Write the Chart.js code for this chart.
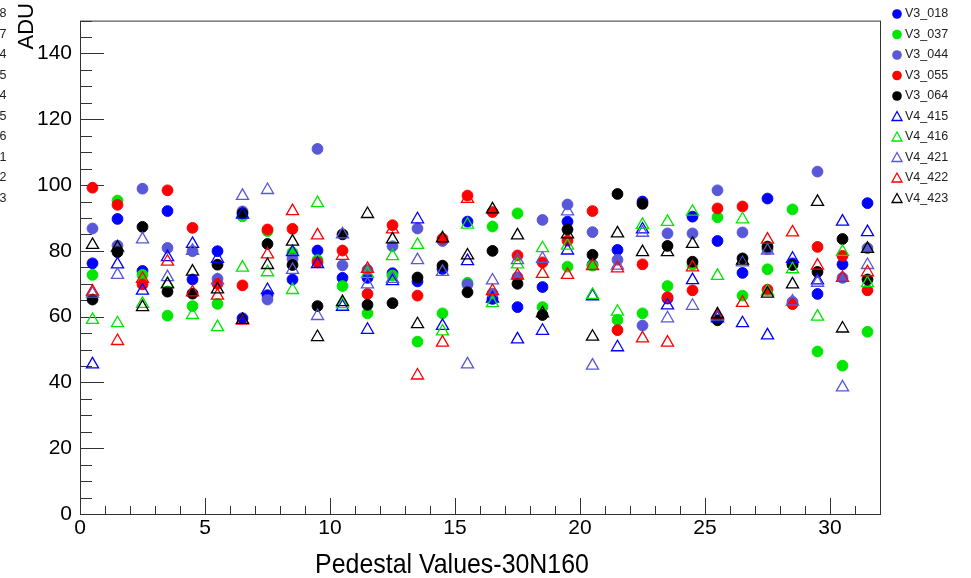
<!DOCTYPE html>
<html lang="en">
<head>
<meta charset="UTF-8">
<title>Pedestal Values-30N160</title>
<style>
  html, body { margin: 0; padding: 0; background: #fff; }
</style>
</head>
<body>
<canvas id="myCanvas" width="971" height="578"></canvas>

<script src="https://cdn.jsdelivr.net/npm/chart.js@4.4.1/dist/chart.umd.min.js"></script>
<script>
// channel positions on the x axis
var channels = [0.5, 1.5, 2.5, 3.5, 4.5, 5.5, 6.5, 7.5, 8.5, 9.5, 10.5, 11.5, 12.5, 13.5, 14.5, 15.5,
                16.5, 17.5, 18.5, 19.5, 20.5, 21.5, 22.5, 23.5, 24.5, 25.5, 26.5, 27.5, 28.5, 29.5, 30.5, 31.5];

var seriesNames = ['V3_018', 'V3_037', 'V3_044', 'V3_055', 'V3_064', 'V4_415', 'V4_416', 'V4_421', 'V4_422', 'V4_423'];

// pedestal values (ADU) per board
var V3_018 = [76.2, 89.7, 73.9, 92.1, 71.3, 79.9, 59.5, 66.5, 71.3, 80.1, 71.8, 71.8, 73.2, 70.7, 74.5, 88.9,
              65.4, 62.9, 69.0, 88.9, 75.8, 80.3, 95.0, 65.5, 90.4, 83.0, 73.3, 95.9, 76.2, 66.9, 75.9, 94.5];
var V3_037 = [72.7, 95.3, 72.7, 60.3, 63.2, 63.9, 90.5, 86.0, 79.5, 77.2, 69.3, 61.0, 72.5, 52.4, 61.0, 70.3,
              87.4, 91.4, 62.9, 75.2, 75.5, 59.0, 61.0, 69.3, 75.8, 90.2, 66.4, 74.4, 92.6, 49.4, 45.1, 55.4];
var V3_044 = [86.8, 81.6, 98.9, 80.9, 79.9, 71.5, 92.0, 65.2, 77.6, 111.0, 75.6, 74.2, 81.4, 86.8, 83.0, 69.8,
              67.0, 72.0, 89.4, 94.1, 85.7, 77.3, 57.3, 85.3, 85.3, 98.4, 85.6, 80.5, 64.5, 104.1, 71.8, 80.8];
var V3_055 = [99.2, 94.0, 69.8, 98.4, 87.0, 70.0, 69.5, 86.5, 86.7, 76.5, 80.1, 66.9, 87.8, 66.4, 83.7, 96.8,
              91.8, 78.6, 76.5, 83.1, 92.1, 55.9, 75.9, 65.9, 68.0, 92.9, 93.5, 68.2, 63.8, 81.2, 78.5, 68.0];
var V3_064 = [65.2, 79.6, 87.3, 67.6, 67.0, 75.8, 91.4, 82.1, 75.7, 63.2, 85.0, 63.6, 64.1, 71.9, 75.5, 67.4,
              80.0, 70.0, 60.5, 86.5, 78.8, 97.3, 94.3, 81.5, 76.7, 58.9, 77.7, 81.3, 75.7, 73.6, 83.6, 71.3];
var V4_415 = [45.5, 75.9, 67.9, 78.1, 82.1, 77.6, 91.0, 68.1, 79.6, 76.0, 63.0, 56.0, 70.8, 89.6, 57.2, 76.9,
              65.5, 53.1, 55.7, 80.1, 66.2, 50.7, 86.5, 63.4, 71.1, 59.5, 58.0, 54.3, 77.6, 71.0, 88.9, 85.7];
var V4_416 = [59.0, 58.0, 63.9, 70.0, 60.5, 56.8, 74.9, 73.5, 68.1, 94.5, 63.8, 73.0, 78.4, 81.8, 55.5, 88.0,
              64.1, 75.9, 80.8, 81.6, 66.6, 61.5, 87.9, 88.8, 91.9, 72.4, 89.6, 67.6, 74.4, 60.0, 79.7, 70.2];
var V4_421 = [67.0, 72.7, 83.5, 72.0, 80.0, 71.0, 96.7, 98.5, 74.2, 60.2, 85.0, 69.8, 71.5, 77.2, 73.6, 45.5,
              71.0, 77.2, 77.6, 92.0, 45.1, 75.5, 85.5, 59.5, 63.3, 60.0, 76.5, 80.1, 64.6, 70.3, 38.5, 75.7];
var V4_422 = [67.6, 52.6, 71.5, 76.7, 67.4, 66.4, 58.8, 78.9, 92.1, 84.7, 78.5, 74.5, 86.5, 42.1, 52.1, 95.8,
              67.8, 72.5, 73.0, 72.7, 75.4, 74.7, 53.4, 52.1, 75.0, 60.3, 64.2, 83.4, 85.6, 75.5, 71.8, 73.5];
var V4_423 = [81.8, 81.0, 62.9, 69.8, 73.7, 68.3, 59.0, 75.7, 82.8, 53.8, 64.4, 91.2, 83.5, 57.7, 83.8, 78.6,
              92.6, 84.7, 61.0, 85.0, 53.9, 85.3, 79.6, 79.6, 82.1, 60.7, 77.0, 67.0, 69.8, 94.9, 56.4, 80.6];

var xTickLabels = [0, 5, 10, 15, 20, 25, 30];
var yTickLabels = [0, 20, 40, 60, 80, 100, 120, 140];

var seriesValues = [V3_018, V3_037, V3_044, V3_055, V3_064, V4_415, V4_416, V4_421, V4_422, V4_423];
var seriesColors = ['#0000ff', '#00e600', '#5858d8', '#ff0000', '#000000',
                    '#0000ff', '#00e600', '#5858d8', '#ff0000', '#000000'];
var seriesMarkers = ['circle', 'circle', 'circle', 'circle', 'circle',
                     'triangle', 'triangle', 'triangle', 'triangle', 'triangle'];

var FONT = '"Liberation Sans", Arial, Helvetica, sans-serif';

var datasets = seriesNames.map(function(name, i) {
    var tri = seriesMarkers[i] === 'triangle';
    return {
        label: name,
        data: channels.map(function(x, k) { return {x: x, y: seriesValues[i][k]}; }),
        pointStyle: seriesMarkers[i],
        pointRadius: tri ? 7 : 5.4,
        pointHoverRadius: tri ? 7 : 5.4,
        borderWidth: tri ? 1.3 : 1,
        borderColor: seriesColors[i],
        backgroundColor: tri ? 'rgba(0,0,0,0)' : seriesColors[i],
        order: seriesNames.length - 1 - i
    };
});

// frame, ROOT-style inner ticks, titles and legend
var decorations = {
    id: 'decorations',
    beforeDatasetsDraw: function(chart) {
        var ctx = chart.ctx, a = chart.chartArea;
        var xs = chart.scales.x, ys = chart.scales.y;
        ctx.save();
        ctx.strokeStyle = '#333';
        ctx.lineWidth = 1;
        ctx.strokeRect(a.left + 0.5, a.top + 0.5, a.right - a.left, a.bottom - a.top);
        ctx.beginPath();
        for (var v = 0; v <= 32; v++) {
            var px = Math.round(xs.getPixelForValue(v)) + 0.5;
            var len = v % 5 === 0 ? 16 : 8;
            ctx.moveTo(px, a.bottom);
            ctx.lineTo(px, a.bottom - len);
        }
        for (var w = 0; w <= 150; w += 5) {
            var py = Math.round(ys.getPixelForValue(w)) + 0.5;
            var l2 = w % 20 === 0 ? 24 : 12;
            ctx.moveTo(a.left, py);
            ctx.lineTo(a.left + l2, py);
        }
        ctx.stroke();
        ctx.restore();
    },
    afterDraw: function(chart) {
        var ctx = chart.ctx;
        ctx.save();
        ctx.fillStyle = '#000';
        ctx.textBaseline = 'alphabetic';
        ctx.save();
        ctx.translate(452, 573);
        ctx.scale(0.89, 1);
        ctx.font = '28px ' + FONT;
        ctx.textAlign = 'center';
        ctx.fillText('Pedestal Values-30N160', 0, 0);
        ctx.restore();

        ctx.translate(33, 3);
        ctx.rotate(-Math.PI / 2);
        ctx.font = '22px ' + FONT;
        ctx.textAlign = 'right';
        ctx.fillText('ADU', 0, 0);
        ctx.restore();

        // legend
        ctx.save();
        ctx.font = '12.5px ' + FONT;
        ctx.textBaseline = 'middle';
        seriesNames.forEach(function(name, i) {
            var y = 14 + i * 20.5;
            var c = seriesColors[i];
            ctx.fillStyle = c;
            ctx.strokeStyle = c;
            if (seriesMarkers[i] === 'circle') {
                ctx.beginPath();
                ctx.arc(897, y, 4.8, 0, Math.PI * 2);
                ctx.fill();
            } else {
                ctx.lineWidth = 1.3;
                ctx.beginPath();
                ctx.moveTo(897, y - 5);
                ctx.lineTo(902, y + 4);
                ctx.lineTo(892, y + 4);
                ctx.closePath();
                ctx.stroke();
            }
            ctx.fillStyle = '#222';
            ctx.textAlign = 'left';
            ctx.fillText(name, 905, y);
            // clipped copy of the legend at the left border
            ctx.fillText(name.slice(-1), -0.5, y);
        });
        ctx.restore();
    }
};

var canvas = document.getElementById('myCanvas');
var context = canvas.getContext('2d');

var pedestalChart = new Chart(context, {
    type: 'scatter',
    data: { datasets: datasets },
    options: {
        responsive: false,
        animation: false,
        events: [],
        layout: { padding: { top: 4, right: 91, left: 0, bottom: 0 } },
        plugins: {
            legend: { display: false },
            tooltip: { enabled: false }
        },
        scales: {
            x: {
                type: 'linear',
                min: 0,
                max: 32,
                afterFit: function(scale) { scale.height = 64; },
                grid: { display: false, drawTicks: false },
                border: { display: false },
                ticks: {
                    stepSize: 5,
                    includeBounds: false,
                    autoSkip: false,
                    maxRotation: 0,
                    padding: 2,
                    color: '#000',
                    font: { family: FONT, size: 21 },
                    callback: function(v) { return xTickLabels.indexOf(v) >= 0 ? String(v) : ''; }
                }
            },
            y: {
                type: 'linear',
                min: 0,
                max: 150,
                afterFit: function(scale) { scale.width = 80; },
                grid: { display: false, drawTicks: false },
                border: { display: false },
                ticks: {
                    stepSize: 20,
                    includeBounds: false,
                    autoSkip: false,
                    padding: 8,
                    color: '#000',
                    font: { family: FONT, size: 21 },
                    callback: function(v) { return yTickLabels.indexOf(v) >= 0 ? String(v) : ''; }
                }
            }
        }
    },
    plugins: [decorations]
});
</script>
</body>
</html>
